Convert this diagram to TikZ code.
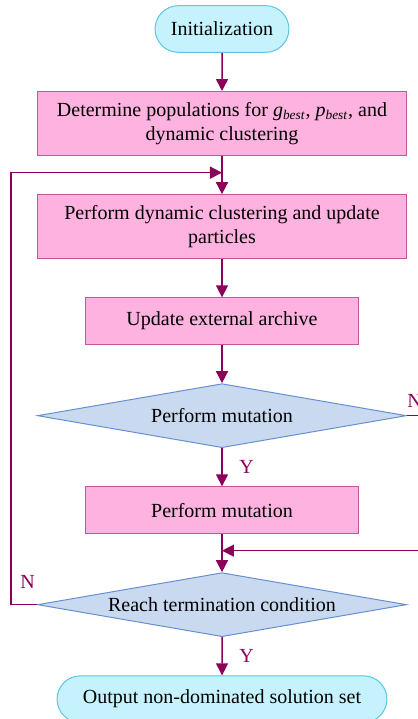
\documentclass[tikz,border=0pt]{standalone}
\usepackage{fontspec}
\setmainfont{Liberation Serif}
\usepackage{xcolor}
\usepackage{tikz}
\usetikzlibrary{shapes.geometric, shapes.misc, arrows.meta, positioning, calc}
\definecolor{flowline}{RGB}{140,0,90}
\definecolor{termfill}{RGB}{197,242,252}
\definecolor{termline}{RGB}{90,200,226}
\definecolor{procfill}{RGB}{253,178,223}
\definecolor{procline}{RGB}{196,86,156}
\definecolor{decfill}{RGB}{201,218,240}
\definecolor{decline}{RGB}{104,142,210}
\tikzstyle{arrow} = [line width=0.9pt, draw=flowline, -{Triangle[width=7.2pt,length=7.2pt]}]

\begin{document}
\begin{tikzpicture}[
    node distance=22.9pt,
    every node/.style={font=\fontsize{12pt}{14.4pt}\selectfont},
    terminal/.style={rounded rectangle, draw=termline, fill=termfill, line width=0.6pt, minimum width=87pt, minimum height=28pt, align=center},
    process/.style={rectangle, draw=procline, fill=procfill, line width=0.6pt, minimum width=221.4pt, minimum height=38.4pt, align=center},
    decision/.style={diamond, draw=decline, fill=decfill, line width=0.6pt, aspect=5.8, inner sep=0pt, minimum width=221.4pt, minimum height=38.4pt, align=center},
    yn/.style={text=flowline, inner sep=0pt}
]
\useasboundingbox (-133.2pt,-414pt) rectangle (117pt,17.4pt);

% Nodes
\node (init) [terminal] {Initialization};
\node (det) [process, below=of init] {Determine populations for \textit{g}\textsubscript{\textit{best}}, \textit{p}\textsubscript{\textit{best}}, and\\ dynamic clustering};
\node (clus) [process, below=of det] {Perform dynamic clustering and update\\ particles};
\node (arch) [process, below=of clus, minimum width=163.8pt, minimum height=28pt] {Update external archive};
\node (mutq) [decision, below=of arch] {Perform mutation};
\node (mut) [process, below=of mutq, minimum width=163.8pt, minimum height=28pt] {Perform mutation};
\node (term) [decision, below=of mut] {Reach termination condition};
\node (out) [terminal, below=of term, minimum width=204.6pt] {Output non-dominated solution set};

% Edges
\draw [arrow] (init) -- (det);
\draw [arrow] (det) -- (clus);
\draw [arrow] (clus) -- (arch);
\draw [arrow] (arch) -- (mutq);
\draw [arrow] (mutq) -- node[yn, right=10pt] {Y} (mut);
\draw [arrow] (mut) -- (term);
\draw [arrow] (term) -- node[yn, right=10pt] {Y} (out);

% Loops
\coordinate (loopin) at ($(det.south)+(0,-10pt)$);
\coordinate (mergein) at ($(mut.south)+(0,-10pt)$);
\draw [arrow] (term.west) -- ++(-15.6pt,0) |- (loopin);
\draw [arrow] (mutq.east) -- ++(20pt,0) |- (mergein);
\node [yn, anchor=base west] at ($(term.west)+(-10.2pt,9.6pt)$) {N};
\node [yn, anchor=base west] at ($(mutq.east)+(0,4.8pt)$) {N};

\end{tikzpicture}
\end{document}
